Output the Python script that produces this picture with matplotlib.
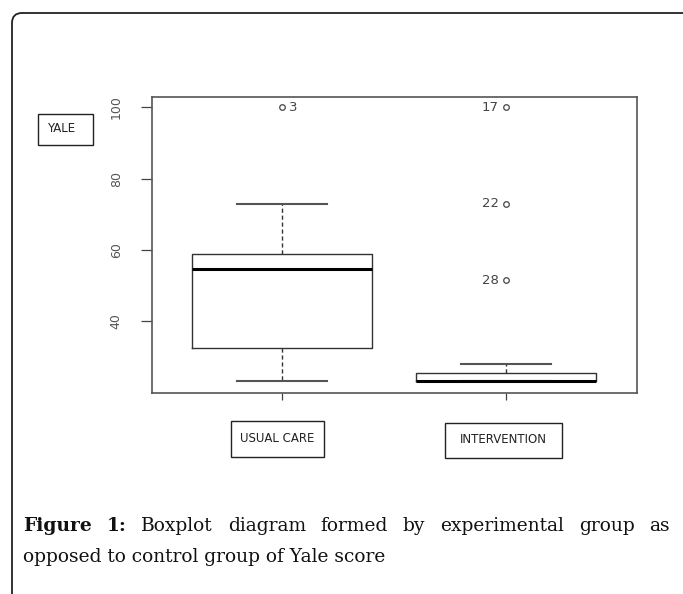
import matplotlib
matplotlib.use("Agg")
import matplotlib.pyplot as plt
from matplotlib.patches import Rectangle
from matplotlib.path import Path
from matplotlib.patches import PathPatch

# ---- data ----
groups = ["USUAL CARE", "INTERVENTION"]
whislo = [23.1, 23.1]
q1 = [32.3, 23.1]
med = [54.7, 23.3]
q3 = [58.8, 25.4]
whishi = [72.9, 27.9]
fliers = [[100.0], [100.0, 72.9, 51.5]]
flier_ids = [["3"], ["17", "22", "28"]]
yticks = [40, 60, 80, 100]
y_label = "YALE"
caption_bold = ["Figure", "1:"]
caption_line1 = ["Boxplot", "diagram", "formed", "by", "experimental", "group", "as"]
caption_line2 = "opposed to control group of Yale score"

W, H = 683, 594
fig = plt.figure(figsize=(W / 100, H / 100), dpi=100)
fig.patch.set_facecolor("white")


def fx(px):
    return px / W


def fy(py):
    return 1 - py / H


# outer frame: top line + left line with rounded corner
r = 10
verts = [(fx(12), fy(H + 5)), (fx(12), fy(13 + r)), (fx(12), fy(13)), (fx(12 + r), fy(13)), (fx(W + 5), fy(13))]
codes = [Path.MOVETO, Path.LINETO, Path.CURVE3, Path.CURVE3, Path.LINETO]
fig.patches.append(PathPatch(Path(verts, codes), transform=fig.transFigure, fill=False,
                             edgecolor="#222222", lw=1.3))

ax_l, ax_r, ax_t, ax_b = 152, 637, 97, 393
ax = fig.add_axes([fx(ax_l), fy(ax_b), fx(ax_r - ax_l), fy(ax_t) - fy(ax_b)])

stats = []
for i in range(len(groups)):
    stats.append(dict(label=groups[i], whislo=whislo[i], q1=q1[i], med=med[i], q3=q3[i],
                      whishi=whishi[i], fliers=fliers[i]))
pos = [1, 2]
ax.bxp(stats, positions=pos, widths=0.8, showfliers=True,
       boxprops=dict(color="#333333", lw=1.0),
       medianprops=dict(color="black", lw=2.2),
       whiskerprops=dict(color="#333333", lw=1.0, linestyle=(0, (3, 2))),
       capprops=dict(color="#555555", lw=1.5),
       flierprops=dict(marker="o", markersize=4, markerfacecolor="none",
                       markeredgecolor="#444444", markeredgewidth=0.9),
       capwidths=0.4)

for i in range(len(groups)):
    for v, lab in zip(fliers[i], flier_ids[i]):
        if i == 0:
            ax.annotate(lab, (pos[i], v), xytext=(5, 0), textcoords="offset points",
                        ha="left", va="center", fontsize=9.5, color="#444444")
        else:
            ax.annotate(lab, (pos[i], v), xytext=(-5, 0), textcoords="offset points",
                        ha="right", va="center", fontsize=9.5, color="#444444")

ax.set_xlim(0.42, 2.585)
ax.set_ylim(19.8, 102.9)
ax.set_yticks(yticks)
ax.set_yticklabels([str(t) for t in yticks], rotation=90, va="center", fontsize=9, color="#555555")
ax.tick_params(axis="y", length=8, width=0.9, color="#444444", pad=13)
ax.set_xticks(pos)
ax.set_xticklabels(["", ""])
ax.tick_params(axis="x", length=5, width=0.9, color="#444444")
for s in ax.spines.values():
    s.set_color("#555555")
    s.set_linewidth(1.2)


# label boxes
def label_box(x0, y0, x1, y1, text, tx=None):
    fig.patches.append(Rectangle((fx(x0), fy(y1)), fx(x1 - x0), fy(y0) - fy(y1),
                                 transform=fig.transFigure, fill=False,
                                 edgecolor="#222222", lw=1.0))
    yc = fy((y0 + y1) / 2 - 1)
    if tx is None:
        fig.text(fx((x0 + x1) / 2), yc, text, ha="center", va="center",
                 fontsize=8.5, color="#222222")
    else:
        fig.text(fx(tx), yc, text, ha="left", va="center",
                 fontsize=8.5, color="#222222")


label_box(38, 114, 93, 145, y_label, tx=47)
label_box(231, 421, 324, 457, groups[0])
label_box(445, 423, 562, 458, groups[1])

# caption
fs = 13.4
fam = "DejaVu Serif"
renderer = fig.canvas.get_renderer()
words = caption_bold + caption_line1
weights = ["bold"] * len(caption_bold) + ["normal"] * len(caption_line1)
x_start, x_end = 23, 670
base1, base2 = 531, 562
texts = []
widths = []
for w_, wt in zip(words, weights):
    t = fig.text(0, fy(base1), w_, fontsize=fs, family=fam, weight=wt, ha="left",
                 va="baseline", color="#111111")
    bb = t.get_window_extent(renderer=renderer)
    texts.append(t)
    widths.append(bb.width)
gap = ((x_end - x_start) - sum(widths)) / (len(words) - 1)
x = x_start
for t, wd in zip(texts, widths):
    t.set_x(fx(x))
    x += wd + gap
fig.text(fx(x_start), fy(base2), caption_line2, fontsize=fs, family=fam, ha="left",
         va="baseline", color="#111111")

fig.savefig("out.png", dpi=100, facecolor="white")
